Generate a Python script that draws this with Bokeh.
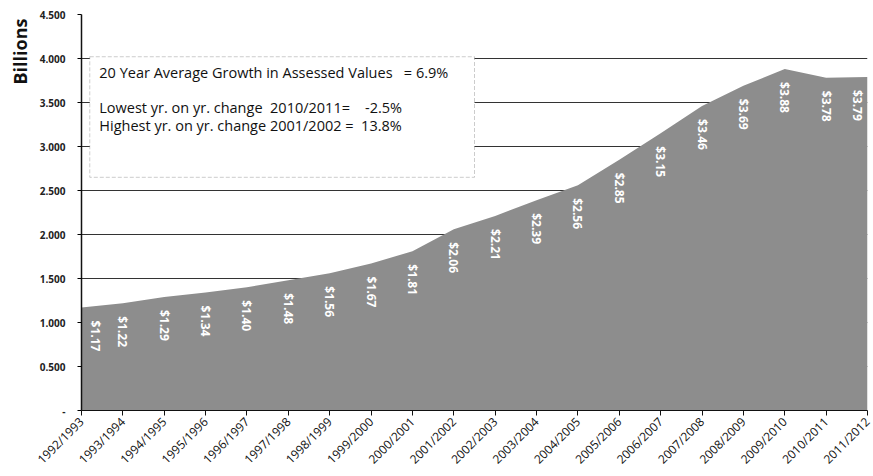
from math import pi

from bokeh.plotting import figure
from bokeh.models import (ColumnDataSource, FixedTicker, PrintfTickFormatter,
                          BoxAnnotation, Label, Range1d, Title)
from bokeh.core.properties import value
from bokeh.embed import file_html
from bokeh.resources import INLINE

# Fiscal years and total assessed values (billions of dollars)
years = ["1992/1993", "1993/1994", "1994/1995", "1995/1996", "1996/1997",
         "1997/1998", "1998/1999", "1999/2000", "2000/2001", "2001/2002",
         "2002/2003", "2003/2004", "2004/2005", "2005/2006", "2006/2007",
         "2007/2008", "2008/2009", "2009/2010", "2010/2011", "2011/2012"]
assessed = [1.17, 1.22, 1.29, 1.34, 1.40, 1.48, 1.56, 1.67, 1.81, 2.06,
            2.21, 2.39, 2.56, 2.85, 3.15, 3.46, 3.69, 3.88, 3.78, 3.79]
value_labels = ["$%.2f" % v for v in assessed]

y_ticks = [0.0, 0.5, 1.0, 1.5, 2.0, 2.5, 3.0, 3.5, 4.0, 4.5]

NB = "\u00a0"  # keeps the column spacing in the summary text
summary_lines = [
    "20 Year Average Growth in Assessed Values" + NB * 3 + "= 6.9%",
    "Lowest yr. on yr. change" + NB * 2 + "2010/2011=" + NB * 4 + "-2.5%",
    "Highest yr. on yr. change 2001/2002 =" + NB * 2 + "13.8%",
]

FONT = "Open Sans"

idx = list(range(len(years)))
# keep the end labels inside the plotting frame
x_shift = [0] * len(years)
x_shift[0] = 14
x_shift[-1] = -10

src = ColumnDataSource(dict(x=idx, y=assessed, lab=value_labels, dx=x_shift))

p = figure(width=873, height=476, output_backend="svg", toolbar_location=None,
           x_range=Range1d(0, len(years) - 1), y_range=Range1d(0, 4.5),
           min_border_left=81, min_border_right=6, min_border_top=14,
           min_border_bottom=64)
p.outline_line_color = None
p.background_fill_color = "white"
p.border_fill_color = "white"

# shaded area of assessed values
p.varea(x="x", y1=0, y2="y", source=src, fill_color="#8d8d8d")

# rotated value labels inside the area
p.text(x="x", y="y", text="lab", source=src, angle=-pi / 2,
       x_offset="dx", y_offset=13,
       text_align="left", text_baseline="middle",
       text_color="white", text_font=value(FONT), text_font_style="bold",
       text_font_size="12px")

# axes
p.xaxis.ticker = FixedTicker(ticks=idx)
p.xaxis.major_label_overrides = {i: years[i] for i in idx}
p.xaxis.major_label_orientation = pi / 4
p.xaxis.major_label_text_font = FONT
p.xaxis.major_label_text_font_size = "12px"
p.xaxis.major_label_text_color = "#111111"
p.xaxis.major_label_standoff = 4
p.xaxis.major_tick_out = 5
p.xaxis.major_tick_in = 0
p.xaxis.minor_tick_line_color = None
p.xaxis.axis_line_color = "#111111"
p.xaxis.major_tick_line_color = "#111111"

p.yaxis.ticker = FixedTicker(ticks=y_ticks)
p.yaxis.formatter = PrintfTickFormatter(format="%.3f")
p.yaxis.major_label_overrides = {0: "-"}
p.yaxis.major_label_text_font = FONT
p.yaxis.major_label_text_font_size = "10px"
p.yaxis.major_label_text_font_style = "bold"
p.yaxis.major_label_text_color = "#222222"
p.yaxis.major_label_standoff = 12
p.yaxis.major_tick_out = 4
p.yaxis.major_tick_in = 0
p.yaxis.minor_tick_line_color = None
p.yaxis.axis_line_color = "#111111"
p.yaxis.axis_line_width = 1.5

p.xgrid.grid_line_color = None
p.ygrid.ticker = FixedTicker(ticks=y_ticks)
p.ygrid.grid_line_color = "#333333"
p.ygrid.grid_line_width = 1

# axis title sits high on the left, beside the top ticks
p.add_layout(Title(text="Billions", align="right", text_font=FONT,
                   text_font_size="18px", text_font_style="bold",
                   text_color="#111111", standoff=10, offset=4), "left")

# summary box
p.add_layout(BoxAnnotation(left=0.2, right=9.5, bottom=2.65, top=4.02,
                           fill_color="white", fill_alpha=1.0,
                           line_color="#555555", line_width=1,
                           line_dash="4 2"))
for line, yv in zip(summary_lines, [3.845, 3.44, 3.235]):
    p.add_layout(Label(x=0.43, y=yv, text=line, text_font=FONT,
                       text_font_size="14.5px", text_color="#111111",
                       text_baseline="middle"))

open("out.html", "w").write(file_html(p, INLINE))
